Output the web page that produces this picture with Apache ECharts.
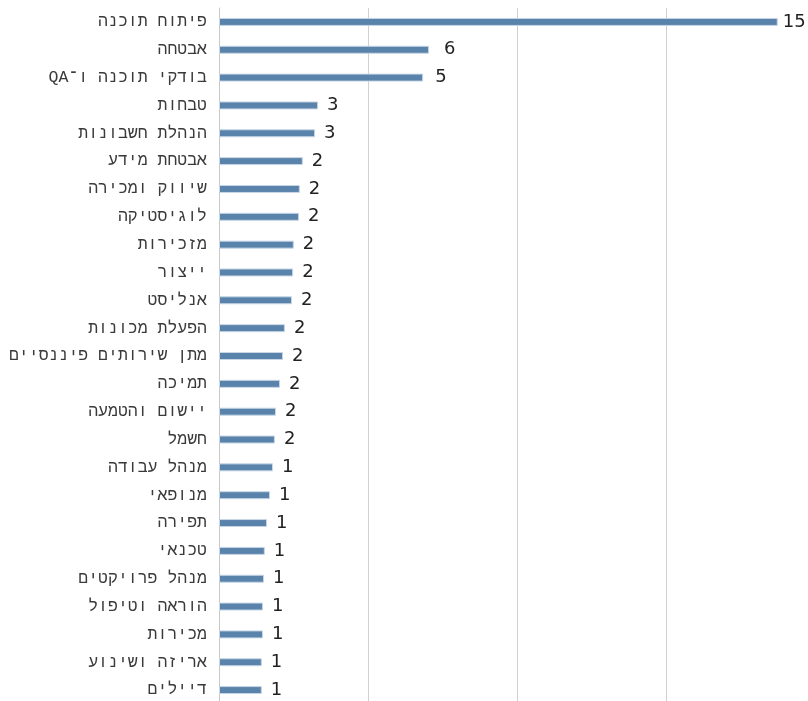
<!DOCTYPE html>
<html>
<head>
<meta charset="utf-8">
<script src="https://cdn.jsdelivr.net/npm/echarts@6/dist/echarts.min.js"></script>
<style>html,body{margin:0;padding:0;background:#fff;overflow:hidden}#c{width:815px;height:704px}</style>
</head>
<body>
<div id="c"></div>
<script>
const categories = ["פיתוח תוכנה","אבטחה","בודקי תוכנה ו־QA","טבחות","הנהלת חשבונות","אבטחת מידע","שיווק ומכירה","לוגיסטיקה","מזכירות","ייצור","אנליסט","הפעלת מכונות","מתן שירותים פיננסיים","תמיכה","יישום והטמעה","חשמל","מנהל עבודה","מנופאי","תפירה","טכנאי","מנהל פרויקטים","הוראה וטיפול","מכירות","אריזה ושינוע","דיילים"];
const values = [15.0,5.64,5.48,2.66,2.58,2.25,2.17,2.15,2.01,1.99,1.96,1.77,1.72,1.64,1.53,1.5,1.45,1.37,1.29,1.23,1.21,1.18,1.18,1.15,1.15];
const xTicks = [0,4,8,12,16];

// label spacing tweaks (style only, not data)
const labelDistanceFor = i => (i === 0 ? 5 : (i === 1 ? 15 : (i === 2 ? 12 : 9)));

const chart = echarts.init(document.getElementById('c'));
chart.setOption({
  animation:false,
  grid:{left:219,right:0,top:8,bottom:0,containLabel:false},
  xAxis:{type:'value',min:xTicks[0],max:xTicks[xTicks.length-1],interval:4,
    axisLabel:{show:false},axisLine:{show:false},axisTick:{show:false},
    splitLine:{show:true,lineStyle:{color:'#d0d0d0',width:1}}},
  yAxis:{type:'category',inverse:true,data:categories,
    axisLine:{show:true,lineStyle:{color:'#c8c8c8',width:1}},
    axisTick:{show:false},
    axisLabel:{margin:12,color:'#3a3a3a',fontFamily:"'Liberation Mono', 'Liberation Sans'",fontSize:16.5,
      formatter:v=>'\u202B'+v+'\u202C'}},
  series:[{type:'bar',
    data:values.map((v,i)=>({value:v,label:{distance:labelDistanceFor(i)}})),
    barWidth:8,
    itemStyle:{color:'#5a83ab',borderColor:'#c9d7e6',borderWidth:1},
    label:{show:true,position:'right',distance:9,color:'#222',fontFamily:'DejaVu Sans',fontSize:18,
      formatter:p=>String(Math.round(p.value))}}]
});
</script>
</body>
</html>
